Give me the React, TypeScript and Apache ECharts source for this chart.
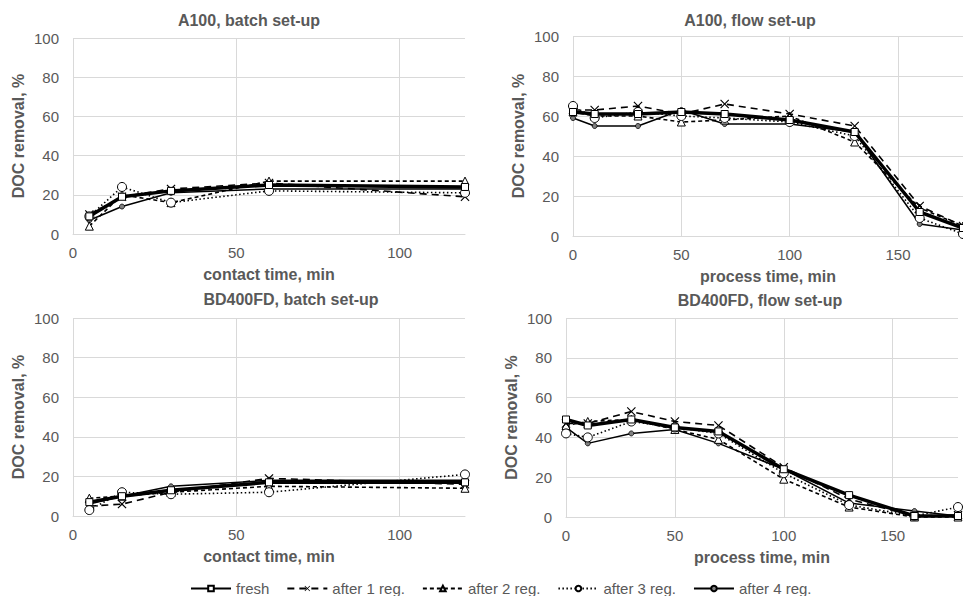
import React, { useEffect, useRef } from "react";
import * as echarts from "echarts";

const seriesNames = ["fresh", "after 1 reg.", "after 2 reg.", "after 3 reg.", "after 4 reg."];

const batchTimes = [5, 15, 30, 60, 120];
const flowTimes = [0, 10, 30, 50, 70, 100, 130, 160, 180];

// A100, batch set-up
const a100BatchFresh = [9, 19, 22, 25, 24];
const a100BatchReg1 = [10, 19, 23, 26, 19];
const a100BatchReg2 = [4, 20, 16, 27, 27];
const a100BatchReg3 = [9, 24, 16, 22, 21];
const a100BatchReg4 = [7, 14, 21, 23, 23];

// A100, flow set-up
const a100FlowFresh = [62, 61, 61, 62, 61, 58, 52, 12, 4];
const a100FlowReg1 = [63, 63, 65, 61, 66, 61, 55, 15, 5];
const a100FlowReg2 = [62, 60, 60, 57, 58, 60, 47, 14, 5];
const a100FlowReg3 = [65, 59, 62, 60, 59, 57, 50, 9, 1];
const a100FlowReg4 = [59, 55, 55, 63, 56, 56, 52, 6, 3];

// BD400FD, batch set-up
const bdBatchFresh = [7, 10, 13, 17, 17];
const bdBatchReg1 = [5, 6, 12, 19, 16];
const bdBatchReg2 = [9, 10, 12, 15, 14];
const bdBatchReg3 = [3, 12, 11, 12, 21];
const bdBatchReg4 = [6, 10, 15, 18, 18];

// BD400FD, flow set-up
const bdFlowFresh = [49, 46, 49, 45, 43, 24, 11, 0.5, 0.5];
const bdFlowReg1 = [47, 47, 53, 48, 46, 25, 9, 0.5, 1];
const bdFlowReg2 = [46, 48, 49, 44, 39, 19, 5, 0, 0];
const bdFlowReg3 = [42, 40, 48, 45, 42, 22, 6, 0.5, 5];
const bdFlowReg4 = [45, 37, 42, 44, 37, 24, 7, 3, 0.5];

const panelTitles = ["A100, batch set-up", "A100, flow set-up", "BD400FD, batch set-up", "BD400FD, flow set-up"];
const xAxisTitles = ["contact time, min", "process time, min", "contact time, min", "process time, min"];
const yAxisTitle = "DOC removal, %";
const xMaxes = [120, 180, 120, 180];
const xInterval = 50;
const yMax = 100;
const yInterval = 20;

const FONT = "'Liberation Sans', Arial, sans-serif";
const GRAY_TEXT = "#595959";
const GRID_LINE = "#d9d9d9";

const X_SYMBOL =
  "path://M0,0.9L0.9,0L5,4.1L9.1,0L10,0.9L5.9,5L10,9.1L9.1,10L5,5.9L0.9,10L0,9.1L4.1,5Z";

const seriesStyles: any[] = [
  {
    symbol: "rect",
    symbolSize: 7,
    lineStyle: { color: "#000", width: 3.5, type: "solid" },
    itemStyle: { color: "#fff", borderColor: "#000", borderWidth: 1 },
    z: 6,
  },
  {
    symbol: X_SYMBOL,
    symbolSize: 9,
    lineStyle: { color: "#000", width: 1.6, type: [7, 5] },
    itemStyle: { color: "#000", borderWidth: 0 },
    z: 4,
  },
  {
    symbol: "triangle",
    symbolSize: 8,
    lineStyle: { color: "#000", width: 1.6, type: [4, 3] },
    itemStyle: { color: "#fff", borderColor: "#000", borderWidth: 1 },
    z: 3,
  },
  {
    symbol: "circle",
    symbolSize: 9,
    lineStyle: { color: "#000", width: 1.6, type: [1.5, 2.5] },
    itemStyle: { color: "#fff", borderColor: "#000", borderWidth: 1 },
    z: 5,
  },
  {
    symbol: "circle",
    symbolSize: 5,
    lineStyle: { color: "#000", width: 1.5, type: "solid" },
    itemStyle: { color: "#808080", borderColor: "#000", borderWidth: 0.8 },
    z: 2,
  },
];

const panelData = [
  { xs: batchTimes, series: [a100BatchFresh, a100BatchReg1, a100BatchReg2, a100BatchReg3, a100BatchReg4] },
  { xs: flowTimes, series: [a100FlowFresh, a100FlowReg1, a100FlowReg2, a100FlowReg3, a100FlowReg4] },
  { xs: batchTimes, series: [bdBatchFresh, bdBatchReg1, bdBatchReg2, bdBatchReg3, bdBatchReg4] },
  { xs: flowTimes, series: [bdFlowFresh, bdFlowReg1, bdFlowReg2, bdFlowReg3, bdFlowReg4] },
];

// layout (px)
const gridRects = [
  { left: 73, top: 38, width: 392, height: 196 },
  { left: 573, top: 36, width: 391, height: 200 },
  { left: 73, top: 318, width: 392, height: 198 },
  { left: 566, top: 318, width: 392, height: 199 },
];
const titlePos = [
  [249, 20],
  [750, 20],
  [291, 299],
  [760, 300],
];

export default function App() {
  const ref = useRef<HTMLDivElement>(null);

  useEffect(() => {
    if (!ref.current) return;
    const chart = echarts.init(ref.current, undefined, { renderer: "svg" });

    const grids = gridRects.map((g) => ({ ...g, containLabel: false }));

    const xAxes = xMaxes.map((mx, i) => {
      const nTicks = Math.floor(mx / xInterval) + 1 + (mx % xInterval === 0 ? 0 : 1);
      const colors: string[] = [];
      for (let k = 0; k < nTicks; k++) colors.push(k === nTicks - 1 && mx % xInterval !== 0 ? "rgba(0,0,0,0)" : GRID_LINE);
      return {
        gridIndex: i,
        type: "value",
        min: 0,
        max: mx,
        interval: xInterval,
        axisLine: { show: true, lineStyle: { color: GRID_LINE, width: 1 } },
        axisTick: { show: false },
        axisLabel: {
          color: GRAY_TEXT,
          fontSize: 15,
          fontFamily: FONT,
          margin: 11,
          showMaxLabel: false,
        },
        splitLine: { show: true, lineStyle: { color: colors, width: 1 } },
        name: xAxisTitles[i],
        nameLocation: "middle",
        nameGap: 32,
        nameTextStyle: { color: GRAY_TEXT, fontSize: 16, fontWeight: "bold", fontFamily: FONT },
      };
    });

    const yAxes = gridRects.map((_, i) => ({
      gridIndex: i,
      type: "value",
      min: 0,
      max: yMax,
      interval: yInterval,
      axisLine: { show: false },
      axisTick: { show: false },
      axisLabel: { color: GRAY_TEXT, fontSize: 15, fontFamily: FONT, margin: 14 },
      splitLine: { show: true, lineStyle: { color: GRID_LINE, width: 1 } },
      name: yAxisTitle,
      nameLocation: "middle",
      nameGap: 47,
      nameTextStyle: { color: GRAY_TEXT, fontSize: 16, fontWeight: "bold", fontFamily: FONT },
    }));

    const series: any[] = [];
    panelData.forEach((p, pi) => {
      p.series.forEach((vals, si) => {
        series.push({
          type: "line",
          name: seriesNames[si],
          xAxisIndex: pi,
          yAxisIndex: pi,
          data: p.xs.map((x, k) => [x, vals[k]]),
          showSymbol: true,
          showAllSymbol: true,
          clip: false,
          ...seriesStyles[si],
        });
      });
    });

    const graphic = panelTitles.map((t, i) => ({
      type: "text",
      x: titlePos[i][0],
      y: titlePos[i][1],
      style: {
        text: t,
        fill: GRAY_TEXT,
        font: `bold 16px ${FONT}`,
        textAlign: "center",
        textVerticalAlign: "middle",
      },
    }));

    chart.setOption({
      animation: false,
      backgroundColor: "#fff",
      grid: grids,
      xAxis: xAxes,
      yAxis: yAxes,
      series,
      graphic,
      legend: {
        show: true,
        data: seriesNames,
        left: 190,
        top: 581,
        padding: 0,
        itemWidth: 40,
        itemHeight: 7,
        itemGap: 17,
        selectedMode: false,
        textStyle: { color: GRAY_TEXT, fontSize: 15, fontFamily: FONT },
      },
    });

    return () => chart.dispose();
  }, []);

  return (
    <div
      ref={ref}
      style={{ position: "absolute", left: 0, top: 0, width: 963, height: 596 }}
    />
  );
}
